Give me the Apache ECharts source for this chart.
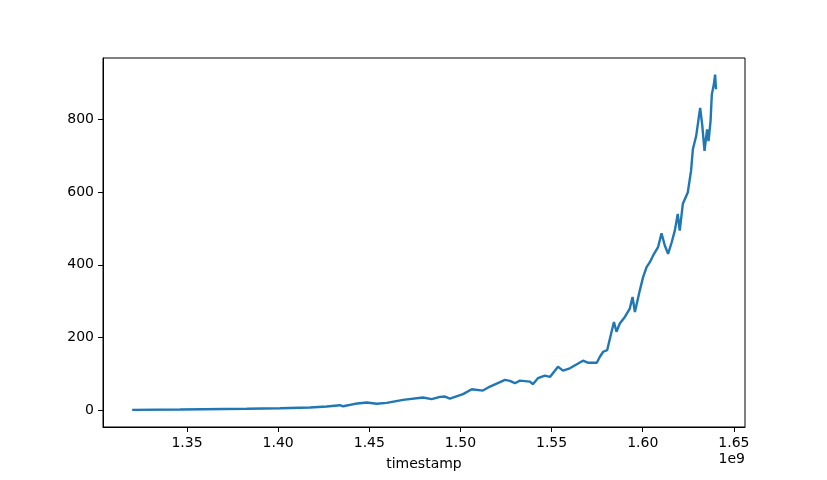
<!DOCTYPE html>
<html>
<head>
<meta charset="utf-8">
<script src="https://cdn.jsdelivr.net/npm/echarts@6/dist/echarts.min.js"></script>
<style>html,body{margin:0;padding:0;background:#fff}#c{width:827px;height:480px}</style>
</head>
<body>
<div id="c"></div>
<script>
const timestamps = [1.3199e9,1.3462e9,1.3828e9,1.4010e9,1.4175e9,1.4266e9,1.4339e9,1.4356e9,1.4422e9,1.4486e9,1.4541e9,1.4595e9,1.4685e9,1.4794e9,1.4842e9,1.4888e9,1.4915e9,1.4942e9,1.5014e9,1.5062e9,1.5123e9,1.5162e9,1.5217e9,1.5244e9,1.5271e9,1.5299e9,1.5326e9,1.5381e9,1.5397e9,1.5425e9,1.5463e9,1.5491e9,1.5535e9,1.5562e9,1.5600e9,1.5672e9,1.5699e9,1.5748e9,
  1.5765e9,1.5783e9,1.5805e9,1.5829e9,1.5842e9,1.5856e9,1.5874e9,1.5902e9,1.5929e9,1.5944e9,1.5957e9,1.5984e9,1.6002e9,1.6021e9,1.6039e9,1.6057e9,1.6084e9,1.6103e9,1.6121e9,1.6139e9,1.6159e9,1.6176e9,1.6192e9,1.6203e9,1.6220e9,1.6247e9,1.6265e9,1.6275e9,1.6293e9,1.6315e9,1.6326e9,1.6339e9,1.6353e9,1.6361e9,1.6372e9,1.6379e9,1.6390e9,1.6397e9,1.6402e9];
const prices = [1,2,4,5.5,7.7,10.4,14,11,17.8,21.4,17.8,20.5,28.7,35,30.7,37,37.8,32.3,44.4,58,54.2,65.2,77.2,83.5,80.8,74.5,81.6,78.9,71.7,88.2,95.3,91.7,120,109,115.5,136.4,130.9,130.9,
  147.3,161,165.6,215.8,243,215.8,238.8,256.8,279.8,311.6,270.5,329.9,366.3,393.7,407.4,425.8,448.5,486.8,453.1,430.4,462.2,494.2,540,494,568,599,658.5,718,754.3,831.8,786.4,713.3,772.7,740.6,795.4,868.5,896,923.3,883];
const xTicks = [1.35e9,1.40e9,1.45e9,1.50e9,1.55e9,1.60e9,1.65e9];
const yTicks = [0,200,400,600,800];

const font = 'DejaVu Sans';
const chart = echarts.init(document.getElementById('c'), null, {renderer:'canvas'});
chart.setOption({
  animation:false,
  backgroundColor:'#fff',
  grid:{left:103,right:82,top:58,bottom:53,show:true,borderColor:'#000',borderWidth:1,containLabel:false},
  xAxis:{
    type:'value', min:1.3039e9, max:1.6561e9,
    name:'timestamp', nameLocation:'middle', nameGap:30,
    nameTextStyle:{fontFamily:font,fontSize:14,color:'#000'},
    axisLine:{show:true,onZero:false,lineStyle:{color:'#000',width:1}},
    axisTick:{show:true,inside:false,length:5,lineStyle:{color:'#000'},customValues:xTicks},
    axisLabel:{color:'#000',fontFamily:font,fontSize:14,margin:9,customValues:xTicks,
      formatter:v=>(v/1e9).toFixed(2)},
    splitLine:{show:false}
  },
  yAxis:{
    type:'value', min:-46, max:969,
    axisLine:{show:true,onZero:false,lineStyle:{color:'#000',width:1}},
    axisTick:{show:true,inside:false,length:5,lineStyle:{color:'#000'},customValues:yTicks},
    axisLabel:{color:'#000',fontFamily:font,fontSize:14,margin:9,customValues:yTicks},
    splitLine:{show:false}
  },
  graphic:[{type:'text',right:82,top:452,style:{text:'1e9',fontFamily:font,fontSize:14,fill:'#000',textAlign:'right'}}],
  series:[{
    type:'line', showSymbol:false, symbol:'none',
    data:timestamps.map((t,i)=>[t,prices[i]]),
    lineStyle:{color:'#1f77b4',width:2.4},
    itemStyle:{color:'#1f77b4'}
  }]
});
</script>
</body>
</html>
